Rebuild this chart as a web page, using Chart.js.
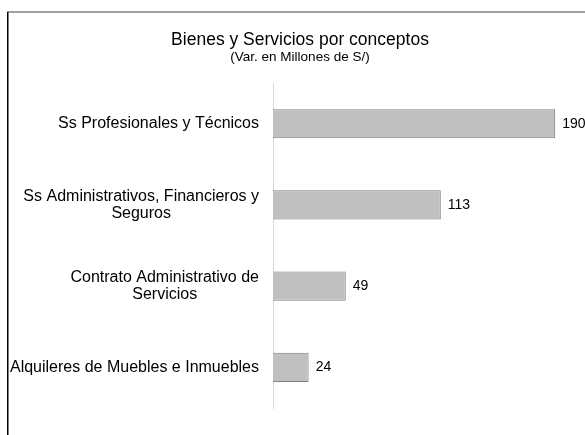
<!DOCTYPE html>
<html>
<head>
<meta charset="utf-8">
<script src="https://cdn.jsdelivr.net/npm/chart.js@4.4.0/dist/chart.umd.min.js"></script>
<style>
  html, body { margin: 0; padding: 0; background: #fff; }
  #wrap { width: 585px; height: 435px; position: relative; }
</style>
</head>
<body>
<div id="wrap"><canvas id="chart" width="585" height="435"></canvas></div>
<script>
const categories = [
    ['Ss Profesionales y Técnicos'],
    ['Ss Administrativos, Financieros y', 'Seguros'],
    ['Contrato Administrativo de', 'Servicios'],
    ['Alquileres de Muebles e Inmuebles']
];
const values = [190, 113, 49, 24];

const FONT = '"Liberation Sans", Arial, sans-serif';

// marco de la hoja (borde superior gris, izquierdo negro)
const framePlugin = {
    id: 'frame',
    beforeDraw(chart) {
        const ctx = chart.ctx;
        ctx.save();
        ctx.fillStyle = '#a0a0a0';
        ctx.fillRect(7, 11, 585 - 7, 2);
        ctx.fillStyle = '#000';
        ctx.fillRect(7, 12, 1.5, 435 - 12);
        ctx.restore();
    }
};

// etiquetas de categorias centradas por bloque y valores al final de cada barra
const labelPlugin = {
    id: 'labels',
    afterDatasetsDraw(chart) {
        const ctx = chart.ctx;
        const yScale = chart.scales.y;
        const meta = chart.getDatasetMeta(0);
        ctx.save();
        ctx.fillStyle = '#000';
        ctx.textBaseline = 'middle';

        ctx.font = '16px ' + FONT;
        ctx.textAlign = 'center';
        const rightX = 259;
        const lineH = 17;
        categories.forEach((lines, i) => {
            const yc = yScale.getPixelForTick(i);
            const maxW = Math.max(...lines.map(l => ctx.measureText(l).width));
            const cx = rightX - maxW / 2;
            const y0 = yc - (lines.length - 1) * lineH / 2;
            lines.forEach((l, j) => ctx.fillText(l, cx, y0 + j * lineH));
        });

        ctx.font = '14px ' + FONT;
        ctx.textAlign = 'left';
        meta.data.forEach((bar, i) => {
            ctx.fillText(String(values[i]), bar.x + 7, bar.y);
        });
        ctx.restore();
    }
};

const ctx = document.getElementById('chart').getContext('2d');
new Chart(ctx, {
    type: 'bar',
    data: {
        labels: categories,
        datasets: [{
            data: values,
            backgroundColor: '#c0c0c0',
            borderColor: '#808080',
            borderWidth: 1,
            barPercentage: 0.36,
            categoryPercentage: 1
        }]
    },
    options: {
        indexAxis: 'y',
        responsive: false,
        animation: false,
        layout: { padding: { left: 30, right: 15, bottom: 27 } },
        scales: {
            x: { display: false, min: 0, max: 200 },
            y: {
                grid: { display: false },
                border: { display: true, color: '#d9d9d9', width: 1 },
                ticks: { display: false },
                afterFit(scale) { scale.width = 243; }
            }
        },
        plugins: {
            legend: { display: false },
            tooltip: { enabled: false },
            title: {
                display: true,
                text: 'Bienes y Servicios por conceptos',
                color: '#000',
                font: { family: FONT, size: 17.5, weight: 'normal' },
                padding: { top: 30, bottom: 0 }
            },
            subtitle: {
                display: true,
                text: '(Var. en Millones de S/)',
                color: '#000',
                font: { family: FONT, size: 13.5, weight: 'normal', lineHeight: 0.9 },
                padding: { top: 0, bottom: 20 }
            }
        }
    },
    plugins: [framePlugin, labelPlugin]
});
</script>
</body>
</html>
